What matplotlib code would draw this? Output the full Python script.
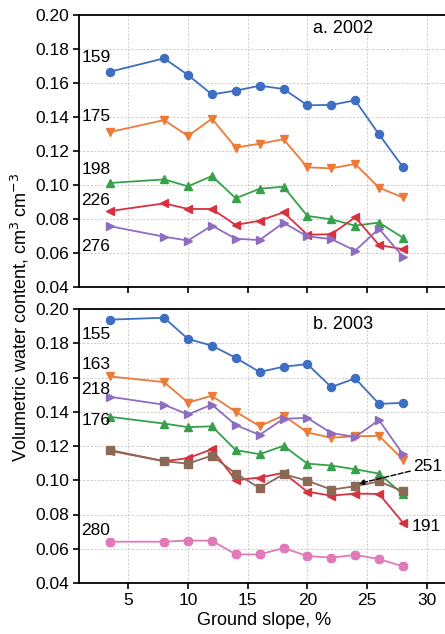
import matplotlib
matplotlib.use("Agg")
import matplotlib.pyplot as plt

plt.rcParams['font.family'] = ['Liberation Sans', 'DejaVu Sans']

slope = [3.5, 8, 10, 12, 14, 16, 18, 20, 22, 24, 26, 28]

# 2002 series
y2002_159 = [0.1667, 0.1745, 0.1647, 0.1533, 0.1555, 0.1584, 0.1565, 0.1469, 0.1471, 0.1498, 0.1298, 0.1106]
y2002_175 = [0.1312, 0.1382, 0.1288, 0.1390, 0.1220, 0.1243, 0.1269, 0.1104, 0.1098, 0.1124, 0.0984, 0.0927]
y2002_198 = [0.1012, 0.1033, 0.0992, 0.1053, 0.0922, 0.0978, 0.0990, 0.0818, 0.0798, 0.0761, 0.0779, 0.0690]
y2002_226 = [0.0847, 0.0892, 0.0859, 0.0859, 0.0765, 0.0790, 0.0839, 0.0708, 0.0710, 0.0810, 0.0647, 0.0622]
y2002_276 = [0.0757, 0.0696, 0.0673, 0.0761, 0.0684, 0.0676, 0.0778, 0.0698, 0.0682, 0.0614, 0.0743, 0.0578]

# 2003 series
y2003_155 = [0.1938, 0.1949, 0.1825, 0.1786, 0.1715, 0.1632, 0.1663, 0.1678, 0.1544, 0.1595, 0.1446, 0.1452]
y2003_163 = [0.1606, 0.1573, 0.1454, 0.1493, 0.1400, 0.1316, 0.1378, 0.1279, 0.1248, 0.1257, 0.1259, 0.1121]
y2003_176 = [0.1370, 0.1331, 0.1310, 0.1315, 0.1176, 0.1152, 0.1201, 0.1097, 0.1086, 0.1064, 0.1039, 0.0918]
y2003_191 = [0.1172, 0.1111, 0.1129, 0.1181, 0.1000, 0.1016, 0.1043, 0.0933, 0.0910, 0.0922, 0.0920, 0.0753]
y2003_218 = [0.1487, 0.1441, 0.1384, 0.1442, 0.1322, 0.1265, 0.1359, 0.1364, 0.1276, 0.1253, 0.1351, 0.1152]
y2003_251 = [0.1176, 0.1111, 0.1097, 0.1144, 0.1039, 0.0955, 0.1035, 0.0998, 0.0945, 0.0965, 0.0993, 0.0936]
y2003_280 = [0.0641, 0.0641, 0.0648, 0.0647, 0.0567, 0.0567, 0.0604, 0.0558, 0.0548, 0.0564, 0.0540, 0.0497]

labels2002 = ["159", "175", "198", "226", "276"]
labels2003 = ["155", "163", "176", "191", "218", "251", "280"]

colors = ['#3d6ec2', '#ec7a38', '#37a04a', '#d8313f', '#8e6cc0', '#8a6a55', '#e07ab8']

fig = plt.figure(figsize=(4.45, 6.34), dpi=100)
L = 79 / 445
W = 1.01 - L
ax1 = fig.add_axes([L, 1 - 287 / 634, W, (287 - 15) / 634])
ax2 = fig.add_axes([L, 1 - 583 / 634, W, (583 - 309) / 634])

s2002 = [(y2002_159, 'o', colors[0]), (y2002_175, 'v', colors[1]), (y2002_198, '^', colors[2]),
         (y2002_226, '<', colors[3]), (y2002_276, '>', colors[4])]
for ys, m, c in s2002:
    ax1.plot(slope, ys, marker=m, color=c, lw=1.3, ms=5.8)

s2003 = [(y2003_155, 'o', colors[0]), (y2003_163, 'v', colors[1]), (y2003_176, '^', colors[2]),
         (y2003_191, '<', colors[3]), (y2003_218, '>', colors[4]), (y2003_251, 's', colors[5]),
         (y2003_280, '8', colors[6])]
for ys, m, c in s2003:
    ax2.plot(slope, ys, marker=m, color=c, lw=1.3, ms=5.8)

fs = 12.5
for ax in (ax1, ax2):
    ax.set_xlim(0.87, 31.9)
    ax.set_ylim(0.04, 0.20)
    ax.set_xticks([5, 10, 15, 20, 25, 30])
    ax.set_yticks([0.04, 0.06, 0.08, 0.10, 0.12, 0.14, 0.16, 0.18, 0.20])
    ax.set_yticklabels(['0.04', '0.06', '0.08', '0.10', '0.12', '0.14', '0.16', '0.18', '0.20'])
    ax.grid(True, ls=(0, (2.5, 2)), color='#c4c4c4', lw=0.6)
    ax.tick_params(direction='out', length=4, width=1.2, labelsize=fs, colors='black', pad=3)
    for sp in ax.spines.values():
        sp.set_linewidth(1.3)
ax1.tick_params(labelbottom=False)

# text labels 2002
ax1.text(1.05, 0.1751, "159", fontsize=fs, va='center')
ax1.text(1.05, 0.1402, "175", fontsize=fs, va='center')
ax1.text(1.05, 0.1092, "198", fontsize=fs, va='center')
ax1.text(1.05, 0.0906, "226", fontsize=fs, va='center')
ax1.text(1.05, 0.0637, "276", fontsize=fs, va='center')
ax1.text(0.631, 0.952, "a. 2002", transform=ax1.transAxes, fontsize=fs + 0.5, va='center')

# text labels 2003
ax2.text(1.05, 0.1852, "155", fontsize=fs, va='center')
ax2.text(1.05, 0.1673, "163", fontsize=fs, va='center')
ax2.text(1.05, 0.1530, "218", fontsize=fs, va='center')
ax2.text(1.05, 0.1351, "176", fontsize=fs, va='center')
ax2.text(1.05, 0.0708, "280", fontsize=fs, va='center')
ax2.text(28.75, 0.0731, "191", fontsize=fs, va='center')
ax2.annotate("251", xy=(24.3, 0.0980), xytext=(28.85, 0.1078), fontsize=fs, va='center',
             arrowprops=dict(arrowstyle='-|>', ls='--', color='black', lw=1.0,
                             mutation_scale=8, shrinkA=0, shrinkB=0))
ax2.text(0.631, 0.942, "b. 2003", transform=ax2.transAxes, fontsize=fs + 0.5, va='center')

ax2.set_xlabel("Ground slope, %", fontsize=fs + 0.5, labelpad=3)
fig.text(20 / 445, 0.5, "Volumetric water content, cm$^3$ cm$^{-3}$", rotation=90,
         fontsize=fs + 0.5, va='center', ha='center')

fig.savefig("out.png", dpi=100)
